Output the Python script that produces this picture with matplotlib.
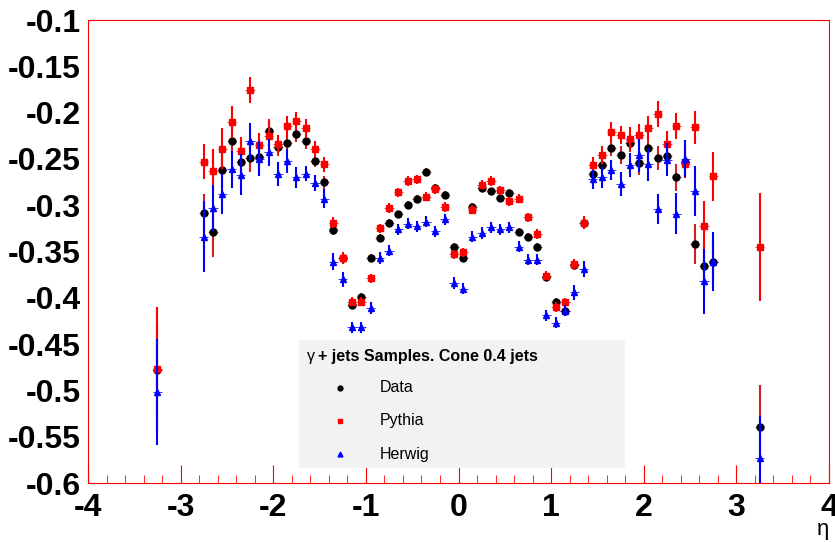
import matplotlib
matplotlib.use('Agg')
import matplotlib.pyplot as plt
from matplotlib.lines import Line2D
from matplotlib.patches import Rectangle
from matplotlib.ticker import MultipleLocator

plt.rcParams['font.family'] = ['Liberation Sans', 'DejaVu Sans']
plt.rcParams['axes.unicode_minus'] = False

# eta bin centres
eta = [-3.25,
       -2.75, -2.65, -2.55, -2.45, -2.35, -2.25, -2.15, -2.05, -1.95, -1.85,
       -1.75, -1.65, -1.55, -1.45, -1.35, -1.25, -1.15, -1.05, -0.95, -0.85,
       -0.75, -0.65, -0.55, -0.45, -0.35, -0.25, -0.15, -0.05, 0.05, 0.15,
       0.25, 0.35, 0.45, 0.55, 0.65, 0.75, 0.85, 0.95, 1.05, 1.15,
       1.25, 1.35, 1.45, 1.55, 1.65, 1.75, 1.85, 1.95, 2.05, 2.15,
       2.25, 2.35, 2.45, 2.55, 2.65, 2.75,
       3.25]

data = [-0.478,
        -0.308, -0.329, -0.262, -0.231, -0.253, -0.249, -0.248, -0.220, -0.237, -0.233,
        -0.223, -0.231, -0.252, -0.275, -0.327, -0.357, -0.408, -0.399, -0.357, -0.335,
        -0.319, -0.310, -0.300, -0.293, -0.264, -0.281, -0.289, -0.345, -0.357, -0.302,
        -0.281, -0.285, -0.292, -0.287, -0.329, -0.334, -0.345, -0.378, -0.404, -0.414,
        -0.365, -0.319, -0.266, -0.257, -0.238, -0.246, -0.233, -0.254, -0.238, -0.249,
        -0.247, -0.270, -0.253, -0.342, -0.366, -0.361,
        -0.539]
data_err = [0.050,
            0.020, 0.027, 0.018, 0.016, 0.015, 0.015, 0.014, 0.013, 0.010, 0.010,
            0.009, 0.008, 0.007, 0.007, 0.005, 0.005, 0.004, 0.004, 0.004, 0.004,
            0.004, 0.004, 0.004, 0.004, 0.004, 0.004, 0.004, 0.004, 0.004, 0.004,
            0.004, 0.004, 0.004, 0.004, 0.004, 0.004, 0.004, 0.004, 0.004, 0.004,
            0.005, 0.005, 0.007, 0.008, 0.009, 0.010, 0.010, 0.013, 0.013, 0.013,
            0.014, 0.015, 0.016, 0.022, 0.025, 0.022,
            0.045]

pythia = [-0.477,
          -0.253, -0.263, -0.239, -0.210, -0.242, -0.176, -0.235, -0.225, -0.234, -0.215,
          -0.209, -0.217, -0.239, -0.256, -0.319, -0.357, -0.404, -0.404, -0.379, -0.325,
          -0.303, -0.286, -0.274, -0.272, -0.291, -0.283, -0.302, -0.353, -0.351, -0.305,
          -0.278, -0.274, -0.284, -0.296, -0.293, -0.313, -0.331, -0.376, -0.410, -0.405,
          -0.364, -0.319, -0.257, -0.246, -0.221, -0.224, -0.228, -0.224, -0.217, -0.202,
          -0.234, -0.214, -0.255, -0.216, -0.323, -0.269,
          -0.345]
pythia_err = [0.067,
              0.019, 0.024, 0.022, 0.017, 0.016, 0.014, 0.013, 0.016, 0.010, 0.011,
              0.010, 0.010, 0.008, 0.008, 0.006, 0.006, 0.005, 0.005, 0.005, 0.005,
              0.005, 0.005, 0.005, 0.005, 0.005, 0.005, 0.005, 0.005, 0.005, 0.005,
              0.005, 0.005, 0.005, 0.005, 0.005, 0.005, 0.005, 0.005, 0.005, 0.005,
              0.006, 0.007, 0.009, 0.010, 0.011, 0.010, 0.012, 0.012, 0.013, 0.014,
              0.014, 0.014, 0.016, 0.018, 0.027, 0.026,
              0.058]

herwig = [-0.502,
          -0.334, -0.303, -0.288, -0.261, -0.267, -0.231, -0.250, -0.243, -0.266, -0.252,
          -0.270, -0.266, -0.276, -0.293, -0.361, -0.380, -0.432, -0.432, -0.411, -0.357,
          -0.349, -0.326, -0.320, -0.323, -0.318, -0.328, -0.315, -0.384, -0.390, -0.334,
          -0.330, -0.324, -0.326, -0.324, -0.345, -0.359, -0.359, -0.419, -0.427, -0.414,
          -0.394, -0.369, -0.272, -0.270, -0.262, -0.277, -0.257, -0.246, -0.256, -0.304,
          -0.251, -0.309, -0.250, -0.285, -0.382, -0.361,
          -0.573]
herwig_err = [0.057,
              0.038, 0.025, 0.022, 0.020, 0.022, 0.020, 0.019, 0.015, 0.013, 0.013,
              0.011, 0.008, 0.009, 0.010, 0.009, 0.008, 0.006, 0.006, 0.006, 0.006,
              0.006, 0.006, 0.006, 0.006, 0.006, 0.006, 0.006, 0.006, 0.006, 0.006,
              0.006, 0.006, 0.006, 0.006, 0.006, 0.006, 0.006, 0.006, 0.006, 0.006,
              0.008, 0.009, 0.010, 0.011, 0.011, 0.013, 0.013, 0.018, 0.018, 0.016,
              0.018, 0.022, 0.020, 0.027, 0.035, 0.032,
              0.045]

fig = plt.figure(figsize=(8.35, 5.42), dpi=100)
ax = fig.add_axes([88 / 835, 59 / 542, 741 / 835, 463 / 542])

series = [(data, data_err, 'o', 'black', '#d02020', 3),
          (pythia, pythia_err, 's', 'red', 'red', 4),
          (herwig, herwig_err, '^', 'blue', 'blue', 5)]
for vals, errs, mk, col, ecol, z in series:
    # thin horizontal bin-width bars, then vertical errors with markers
    ax.errorbar(eta, vals, xerr=0.05, fmt='none', ecolor=ecol, elinewidth=0.7,
                capsize=0, alpha=0.8, zorder=z)
    ax.errorbar(eta, vals, yerr=errs, fmt=mk, color=col, ms=5, ecolor=ecol,
                elinewidth=1.5, capsize=0, zorder=z)

ax.set_xlim(-4, 4)
ax.set_ylim(-0.6, -0.1)
ax.xaxis.set_major_locator(MultipleLocator(1))
ax.xaxis.set_minor_locator(MultipleLocator(0.2))
ax.yaxis.set_major_locator(MultipleLocator(0.05))
ax.yaxis.set_major_formatter(plt.FuncFormatter(lambda v, p: '%g' % round(v, 2)))
ax.xaxis.set_major_formatter(plt.FuncFormatter(lambda v, p: '%g' % v))

for s in ax.spines.values():
    s.set_color('red')
ax.tick_params(which='both', direction='in', colors='red', labelcolor='black',
               top=False, right=False)
ax.tick_params(axis='x', which='major', length=13, pad=7)
ax.tick_params(axis='x', which='minor', length=6)
ax.tick_params(axis='y', which='major', length=0, pad=5)
for lab in ax.get_xticklabels() + ax.get_yticklabels():
    lab.set_fontsize(23)
    lab.set_fontweight('bold')

fig.text(829 / 835, 1 - 529 / 542, 'η', ha='right', va='center', fontsize=16)

# legend box
fig.add_artist(Rectangle((299 / 835, 1 - 468 / 542), 326 / 835, 128 / 542,
                         transform=fig.transFigure, facecolor='#f2f2f2',
                         edgecolor='none', zorder=6))
fig.text(307 / 835, 1 - 357 / 542, 'γ', fontsize=11.5, va='center', zorder=7)
fig.text(318 / 835, 1 - 357 / 542, '+ jets Samples. Cone 0.4 jets', fontsize=11.5,
         fontweight='bold', va='center', zorder=7)
entries = [('Data', 'o', 'black'), ('Pythia', 's', 'red'), ('Herwig', '^', 'blue')]
for k, (name, mk, col) in enumerate(entries):
    yy = 1 - (388 + 33 * k) / 542
    fig.add_artist(Line2D([340 / 835], [yy], marker=mk, color=col, ms=3.5,
                          linestyle='none', transform=fig.transFigure, zorder=7))
    fig.text(380 / 835, yy, name, fontsize=11.5, va='center', zorder=7)

fig.savefig('out.png', dpi=100)
